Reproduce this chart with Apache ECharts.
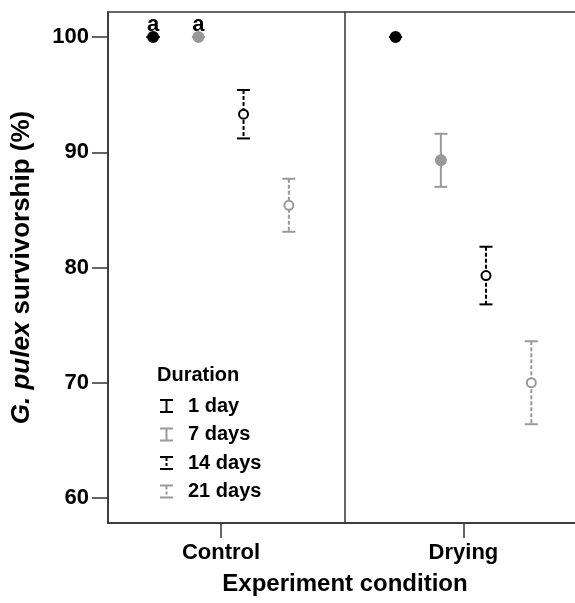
<!DOCTYPE html>
<html>
<head>
<meta charset="utf-8">
<style>
  html, body { margin: 0; padding: 0; background: #fff; }
  #chart { width: 575px; height: 603px; }
</style>
<script src="https://cdn.jsdelivr.net/npm/echarts@6/dist/echarts.min.js"></script>
</head>
<body>
<div id="chart"></div>
<script>
// conditions on the x axis, durations as series
const conditions = ['Control', 'Drying']
const durations = ['1 day', '7 days', '14 days', '21 days']
const yTicks = [60, 70, 80, 90, 100]

// mean survivorship (%) per condition, for each duration
const day1Mean = [100, 100]
const day7Mean = [100, 89.3]
const day14Mean = [93.3, 79.3]
const day21Mean = [85.4, 70.0]

// error half-widths
const day1Err = [0, 0]
const day7Err = [0, 2.3]
const day14Err = [2.1, 2.5]
const day21Err = [2.3, 3.6]

// significance letters
const day1Letters = ['a', '']
const day7Letters = ['a', '']
const day14Letters = ['', '']
const day21Letters = ['', '']

const FONT = '"Liberation Sans", Arial, sans-serif'
const BLACK = '#000'
const GRAY = '#999'
const dodge = [-0.28, -0.093, 0.093, 0.28]

const styles = [
    { color: BLACK, filled: true, dashed: false },
    { color: GRAY, filled: true, dashed: false },
    { color: BLACK, filled: false, dashed: true },
    { color: GRAY, filled: false, dashed: true },
]
const allMeans = [day1Mean, day7Mean, day14Mean, day21Mean]
const allErrs = [day1Err, day7Err, day14Err, day21Err]
const allLetters = [day1Letters, day7Letters, day14Letters, day21Letters]

const solidIcon = 'path://M0,0H13V2H0Z M5.5,2H7.5V12H5.5Z M0,12H13V14H0Z'
const dashedIcon = 'path://M0,0H13V2H0Z M5.5,2H7.5V5H5.5Z M5.5,7H7.5V10H5.5Z M0,12H13V14H0Z'

function makeRender(style, letters) {
    return function (params, api) {
        const x = api.value(0)
        const m = api.value(1)
        const e = api.value(2)
        const c = api.coord([x, m])
        const hi = api.coord([x, m + e])
        const lo = api.coord([x, m - e])
        const lineStyle = {
            stroke: style.color,
            lineWidth: 2,
            lineDash: style.dashed ? [4, 2] : null
        }
        const children = [
            { type: 'line', shape: { x1: c[0], y1: hi[1], x2: c[0], y2: lo[1] }, style: lineStyle },
            { type: 'line', shape: { x1: c[0] - 6.5, y1: hi[1], x2: c[0] + 6.5, y2: hi[1] }, style: { stroke: style.color, lineWidth: 2 } },
            { type: 'line', shape: { x1: c[0] - 6.5, y1: lo[1], x2: c[0] + 6.5, y2: lo[1] }, style: { stroke: style.color, lineWidth: 2 } },
            {
                type: 'circle',
                shape: { cx: c[0], cy: c[1], r: style.filled ? 5 : 4.5 },
                style: { fill: style.filled ? style.color : '#fff', stroke: style.color, lineWidth: 2 }
            }
        ]
        const letter = letters[params.dataIndex]
        if (letter) {
            children.push({
                type: 'text',
                style: {
                    x: c[0], y: c[1] - 12.5, text: letter,
                    fill: '#000', font: 'bold 22px ' + FONT,
                    align: 'center', verticalAlign: 'middle'
                }
            })
        }
        return { type: 'group', children: children }
    }
}

const series = durations.map((name, k) => {
    const s = {
        name: name,
        type: 'custom',
        itemStyle: { color: styles[k].color },
        renderItem: makeRender(styles[k], allLetters[k]),
        data: conditions.map((_, i) => [i + 1 + dodge[k], allMeans[k][i], allErrs[k][i]]),
        z: 10
    }
    if (k === 0) {
        s.markLine = {
            silent: true,
            symbol: 'none',
            label: { show: false },
            lineStyle: { color: '#333', width: 1.5, type: 'solid' },
            data: [{ xAxis: 1.51 }],
            animation: false
        }
    }
    return s
})

const chart = echarts.init(document.getElementById('chart'))

chart.setOption({
    animation: false,
    textStyle: { fontFamily: FONT },
    title: {
        text: 'Duration',
        left: 157,
        top: 365,
        padding: 0,
        textStyle: { fontFamily: FONT, fontWeight: 'bold', fontSize: 20, color: '#000', lineHeight: 20 }
    },
    legend: {
        orient: 'vertical',
        left: 160,
        top: 396,
        padding: 0,
        itemWidth: 13,
        itemHeight: 14,
        itemGap: 8.5,
        selectedMode: false,
        textStyle: { fontFamily: FONT, fontWeight: 'bold', fontSize: 20, color: '#000', lineHeight: 20, padding: [0, 0, 0, 10] },
        data: durations.map((name, k) => ({ name: name, icon: styles[k].dashed ? dashedIcon : solidIcon }))
    },
    grid: {
        left: 108,
        right: -7,
        top: 12,
        bottom: 80,
        outerBoundsMode: 'none',
        containLabel: false,
        show: true,
        borderColor: '#333',
        borderWidth: 1.5
    },
    xAxis: {
        type: 'value',
        min: 0.534,
        max: 2.489,
        name: 'Experiment condition',
        nameLocation: 'middle',
        nameGap: 49,
        nameTextStyle: { fontFamily: FONT, fontWeight: 'bold', fontSize: 24, color: '#000', lineHeight: 24 },
        splitLine: { show: false },
        axisLine: { lineStyle: { color: '#333', width: 1.5 } },
        axisTick: { show: true, length: 15, lineStyle: { color: '#333', width: 1.5 }, customValues: [1, 2] },
        axisLabel: {
            margin: 19,
            fontSize: 22,
            fontWeight: 'bold',
            color: '#000',
            customValues: [1, 2],
            formatter: v => conditions[Math.round(v) - 1] || ''
        }
    },
    yAxis: {
        type: 'value',
        min: 57.83,
        max: 102.17,
        name: '{i|G. pulex} survivorship (%)',
        nameLocation: 'middle',
        nameGap: 73,
        nameTextStyle: {
            fontFamily: FONT, fontWeight: 'bold', fontSize: 26, color: '#000',
            rich: { i: { fontFamily: FONT, fontWeight: 'bold', fontStyle: 'italic', fontSize: 26, color: '#000' } }
        },
        splitLine: { show: false },
        axisLine: { show: true, lineStyle: { color: '#333', width: 1.5 } },
        axisTick: { show: true, length: 16, lineStyle: { color: '#333', width: 1.5 }, customValues: yTicks },
        axisLabel: {
            margin: 19,
            fontSize: 22,
            fontWeight: 'bold',
            color: '#000',
            customValues: yTicks
        }
    },
    series: series
})
</script>
</body>
</html>
